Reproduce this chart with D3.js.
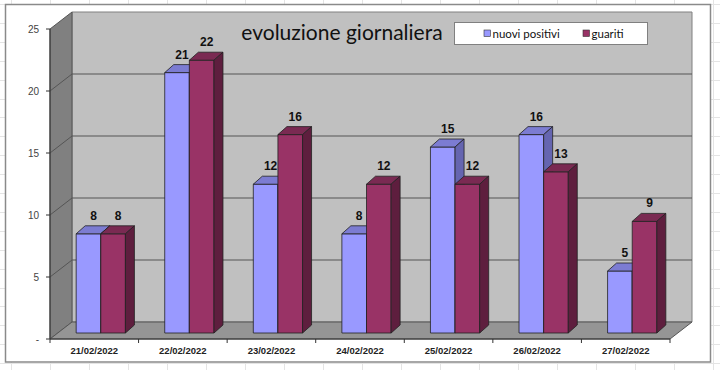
<!DOCTYPE html>
<html><head><meta charset="utf-8">
<script src="https://cdn.jsdelivr.net/npm/d3@7/dist/d3.min.js"></script>
<style>body{margin:0;background:#fff}svg{display:block}</style>
</head><body>
<svg id="c" width="720" height="370"></svg>
<script>
const categories = ["21/02/2022","22/02/2022","23/02/2022","24/02/2022","25/02/2022","26/02/2022","27/02/2022"];
const nuoviPositivi = [8,21,12,8,15,16,5];
const guariti = [8,22,16,12,12,13,9];
const seriesNames = ["nuovi positivi","guariti"];
const yTicks = [0,5,10,15,20,25];
const yTickLabels = ["-","5","10","15","20","25"];
const titleText = "evoluzione giornaliera";

const svg = d3.select("#c");
const FONT = "'Liberation Sans', Arial, sans-serif";
const FONT2 = "Lato, 'Open Sans', sans-serif";

// spreadsheet cell lines outside the chart
const bg = svg.append("g").attr("stroke","#e4e4e4").attr("stroke-width",1);
d3.range(11, 720, 39).forEach(x => {
  bg.append("line").attr("x1",x+0.5).attr("x2",x+0.5).attr("y1",0).attr("y2",370);
});
d3.range(4, 370, 18.9).forEach(y => {
  bg.append("line").attr("x1",0).attr("x2",720).attr("y1",Math.round(y)+0.5).attr("y2",Math.round(y)+0.5);
});
// chart area
svg.append("rect").attr("x",5.5).attr("y",4.5).attr("width",705).attr("height",357.5)
  .attr("fill","#fff").attr("stroke","#8a8a8a").attr("stroke-width",1.5);

// scales (front plane)
const x = d3.scaleBand().domain(categories).range([50,670]);
const y = d3.scaleLinear().domain([0,25]).range([339,29]);
const W = {dx:22, dy:-17};      // wall depth
const B = {dx:6.5, dy:-6};      // bar front offset
const D = {dx:9, dy:-8};        // bar depth
const pts = a => a.map(p=>p.join(",")).join(" ");

const x0 = x.range()[0], x1 = x.range()[1];
const yTop = y(25), yBot = y(0);

// back wall
svg.append("polygon").attr("points",pts([[x0+W.dx,yTop+W.dy],[x1+W.dx,yTop+W.dy],[x1+W.dx,yBot+W.dy],[x0+W.dx,yBot+W.dy]]))
  .attr("fill","#c0c0c0").attr("stroke","#808080").attr("stroke-width",1);
// side wall
svg.append("polygon").attr("points",pts([[x0,yTop],[x0+W.dx,yTop+W.dy],[x0+W.dx,yBot+W.dy],[x0,yBot]]))
  .attr("fill","#808080").attr("stroke","#555").attr("stroke-width",1);
// floor
svg.append("polygon").attr("points",pts([[x0,yBot],[x0+W.dx,yBot+W.dy],[x1+W.dx,yBot+W.dy],[x1,yBot]]))
  .attr("fill","#959595").attr("stroke","#555").attr("stroke-width",1);

// gridlines
yTicks.slice(1,-1).forEach(v => {
  const yy = y(v);
  svg.append("polyline").attr("points",pts([[x0,yy],[x0+W.dx,yy+W.dy],[x1+W.dx,yy+W.dy]]))
    .attr("fill","none").attr("stroke","#555").attr("stroke-width",1);
});
// axis lines
svg.append("line").attr("x1",x0).attr("x2",x0).attr("y1",yTop).attr("y2",yBot).attr("stroke","#333");
svg.append("line").attr("x1",x0).attr("x2",x1).attr("y1",yBot).attr("y2",yBot).attr("stroke","#333");

// y ticks and labels
yTicks.forEach((v,i) => {
  svg.append("line").attr("x1",x0-4).attr("x2",x0).attr("y1",y(v)).attr("y2",y(v)).attr("stroke","#333");
  svg.append("text").attr("x",39).attr("y",y(v)+3.5).attr("text-anchor","end")
    .attr("font-family",FONT).attr("font-size",10).attr("fill","#444").text(yTickLabels[i]);
});
// x ticks
categories.concat([null]).forEach((c,i) => {
  const xx = c ? x(c) : x1;
  svg.append("line").attr("x1",xx).attr("x2",xx).attr("y1",yBot).attr("y2",yBot+4).attr("stroke","#333");
});
categories.forEach(c => {
  svg.append("text").attr("x",x(c)+x.bandwidth()/2).attr("y",354).attr("text-anchor","middle")
    .attr("font-family",FONT).attr("font-size",9.5).attr("font-weight","bold").attr("fill","#222").text(c);
});

// bars
const bw = x.bandwidth()*0.278;
const colors = [
  {front:"#9999ff", top:"#7c7cd2", side:"#6565b0"},
  {front:"#993366", top:"#7a2a52", side:"#5e1e3e"}
];
const series = [nuoviPositivi, guariti];
const barG = svg.append("g");
categories.forEach((c,i) => {
  const cx = x(c) + x.bandwidth()/2 + B.dx;
  series.forEach((s,k) => {
    const v = s[i];
    const xl = k===0 ? cx-bw : cx;
    const xr = xl + bw;
    const yt = y(v) + B.dy;
    const yb = y(0) + B.dy;
    const col = colors[k];
    const g = barG.append("g").attr("stroke","#222").attr("stroke-width",0.8).attr("stroke-linejoin","round");
    g.append("polygon").attr("points",pts([[xl,yt],[xr,yt],[xr,yb],[xl,yb]])).attr("fill",col.front);
    g.append("polygon").attr("points",pts([[xl,yt],[xl+D.dx,yt+D.dy],[xr+D.dx,yt+D.dy],[xr,yt]])).attr("fill",col.top);
    g.append("polygon").attr("points",pts([[xr,yt],[xr+D.dx,yt+D.dy],[xr+D.dx,yb+D.dy],[xr,yb]])).attr("fill",col.side);
  });
  series.forEach((s,k) => {
    const v = s[i];
    const xl = k===0 ? cx-bw : cx;
    svg.append("text").attr("x",xl+bw/2+5).attr("y",y(v)+B.dy-14).attr("text-anchor","middle")
      .attr("font-family",FONT).attr("font-size",12).attr("font-weight","bold").attr("fill","#111").text(v);
  });
});

// title
svg.append("text").attr("x",342).attr("y",40).attr("text-anchor","middle")
  .attr("font-family",FONT2).attr("font-size",21).attr("fill","#111").text(titleText);

// legend
const lg = svg.append("g");
lg.append("rect").attr("x",454.5).attr("y",22.5).attr("width",193).attr("height",22)
  .attr("fill","#fff").attr("stroke","#808080");
const legX = [484, 583];
seriesNames.forEach((n,k) => {
  lg.append("rect").attr("x",legX[k]).attr("y",30).attr("width",6.5).attr("height",6.5)
    .attr("fill",colors[k].front).attr("stroke","#333").attr("stroke-width",0.6);
  lg.append("text").attr("x",legX[k]+8.5).attr("y",37.5).attr("font-family",FONT2).attr("font-size",11.5)
    .attr("fill","#111").text(n);
});
</script>
</body></html>
